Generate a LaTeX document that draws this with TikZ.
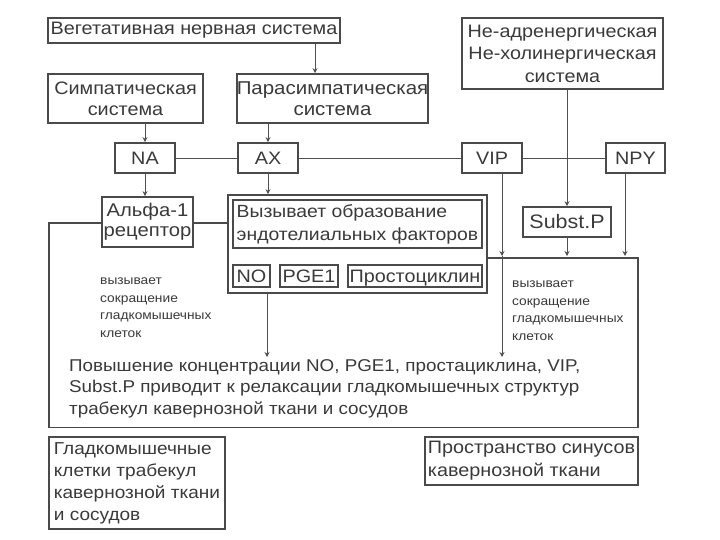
\documentclass[tikz,border=0pt]{standalone}
\usepackage{fontspec}
\setmainfont{Liberation Sans}[FakeStretch=1.1]
\usetikzlibrary{arrows.meta}
\definecolor{boxc}{HTML}{4A4A4A}
\definecolor{linec}{HTML}{505050}
\definecolor{txt}{HTML}{3A3A3A}
\begin{document}
\begin{tikzpicture}[x=1pt,y=-1pt,
  box/.style={draw=boxc,line width=1.6pt,inner sep=0pt,text=txt,align=center},
  conn/.style={draw=linec,line width=0.9pt},
  arr/.style={conn,-{Stealth[length=5pt,width=5pt]}},
  big/.style={font=\fontsize{18}{21}\selectfont},
  lbl/.style={font=\fontsize{18}{21}\selectfont,text height=12.9pt,text depth=0pt},
  tiny/.style={font=\fontsize{12.5}{17.5}\selectfont,text=txt,align=left,inner sep=0pt}]
\useasboundingbox[fill=white] (0,0) rectangle (720,540);

% top row
\node[box,big,minimum width=292pt,minimum height=25pt] (veg) at (194,30.5) {Вегетативная нервная система};
\node[box,big,minimum width=155pt,minimum height=49pt] (simp) at (125.5,98.5) {Симпатическая\\система};
\node[box,minimum width=191pt,minimum height=49pt,font=\fontsize{18.6}{21}\selectfont] (para) at (332.5,98.5) {Парасимпатическая\\система};
\node[box,minimum width=201pt,minimum height=71pt,font=\fontsize{18}{22.5}\selectfont] (nonadr) at (562.5,53.5) {Не-адренергическая\\Не-холинергическая\\система};

% mediators
\node[box,lbl,minimum width=60pt,minimum height=30pt] (na) at (145,158) {NA};
\node[box,lbl,minimum width=60pt,minimum height=30pt] (ax) at (268,158) {AX};
\node[box,lbl,minimum width=60pt,minimum height=30pt] (vip) at (492,158) {VIP};
\node[box,lbl,minimum width=59pt,minimum height=30pt] (npy) at (635.5,158) {NPY};

% receptors / factors
\node[box,minimum width=91pt,minimum height=50pt,font=\fontsize{18.4}{20}\selectfont] (alpha) at (147.5,222) {Альфа-1\\рецептор};
\node[box,minimum width=259pt,minimum height=98pt] (endo) at (357.5,244) {};
\node[box,minimum width=249pt,minimum height=48pt,align=left,font=\fontsize{17.6}{23}\selectfont] (endoin) at (357.5,224) {Вызывает образование\\эндотелиальных факторов};
\node[box,lbl,minimum width=37pt,minimum height=22pt] (no) at (251.5,276) {NO};
\node[box,lbl,minimum width=58pt,minimum height=22pt] (pge) at (309,276) {PGE1};
\node[box,lbl,minimum width=134pt,minimum height=22pt] (prost) at (415,276) {Простоциклин};
\node[box,lbl,minimum width=88pt,minimum height=30pt,font=\fontsize{19.5}{21}\selectfont] (subst) at (567,222) {Subst.P};

% bottom boxes
\node[box,minimum width=176pt,minimum height=92pt,align=left,font=\fontsize{17.3}{22}\selectfont] (smooth) at (137,483) {Гладкомышечные\\клетки трабекул\\кавернозной ткани\\и сосудов};
\node[box,minimum width=213pt,minimum height=48pt,align=left,font=\fontsize{18}{23}\selectfont] (sinus) at (531.5,461) {Пространство синусов\\кавернозной ткани};

% free texts
\node[tiny,anchor=north west] (lefttxt) at (100,278) {вызывает\\сокращение\\гладкомышечных\\клеток};
\node[tiny,anchor=north west] (righttxt) at (512,281) {вызывает\\сокращение\\гладкомышечных\\клеток};
\node[anchor=west,align=left,text=txt,inner sep=0pt,font=\fontsize{17.1}{21.5}\selectfont] (result) at (69,388.5) {Повышение концентрации NO, PGE1, простациклина, VIP,\\Subst.P приводит к релаксации гладкомышечных структур\\трабекул кавернозной ткани и сосудов};

% coordinates
\coordinate (tl) at (49,223);
\coordinate (bl) at (49,427.5);
\coordinate (br) at (638,427.5);
\coordinate (tr) at (638,258);
\coordinate (vipa) at (502,256);
\coordinate (vipb) at (502,357);
\coordinate (substa) at (567,256);
\coordinate (npya) at (625,256);
\coordinate (axb) at (267,357);

% outline of effect region
\draw[box] (alpha.west |- tl) -- (tl) -- (bl) -- (br) -- (tr) -- (endo.east |- tr);
\draw[box] (alpha.east |- tl) -- (endo.west |- tl);

% connectors
\draw[arr] (veg.south -| 315,0) -- (para.north -| 315,0);
\draw[arr] (simp.south -| na.north) -- (na.north);
\draw[arr] (para.south -| ax.north) -- (ax.north);
\draw[arr] (na.south) -- (alpha.north -| na.south);
\draw[arr] (ax.south) -- (endo.north -| ax.south);
\draw[conn] (na.east) -- (ax.west);
\draw[conn] (ax.east) -- (vip.west);
\draw[conn] (vip.east) -- (npy.west);
\draw[arr] (nonadr.south -| subst.north) -- (subst.north);
\draw[arr] (vip.south -| vipa) -- (vipa);
\draw[arr] (vipa) -- (vipb);
\draw[arr] (subst.south) -- (substa);
\draw[arr] (npy.south -| npya) -- (npya);
\draw[arr] (endo.south -| axb) -- (axb);
\end{tikzpicture}
\end{document}
